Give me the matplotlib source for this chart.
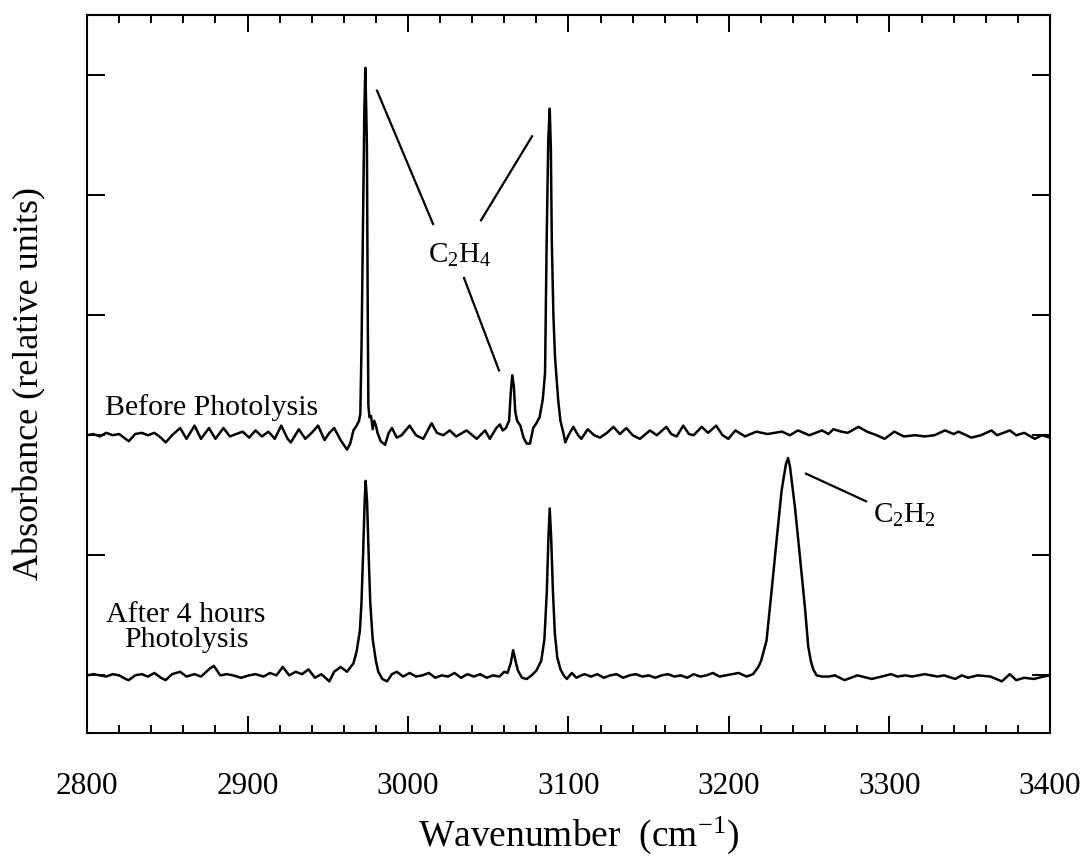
import matplotlib
matplotlib.use('Agg')
import matplotlib.pyplot as plt
import numpy as np

plt.rcParams['font.family'] = ['Liberation Serif', 'DejaVu Serif']
plt.rcParams['mathtext.fontset'] = 'custom'
plt.rcParams['mathtext.rm'] = 'Liberation Serif'
plt.rcParams['mathtext.it'] = 'Liberation Serif:italic'

# spectrum before photolysis (offset by 2 units)
before_wn = [
    2800, 2804, 2808, 2812, 2816, 2820, 2824, 2826, 2830, 2834, 2838, 2842, 2846, 2849,
    2853, 2858, 2862, 2867, 2871, 2876, 2880, 2885, 2889, 2893, 2897, 2901, 2905, 2909,
    2913, 2917, 2921, 2925, 2927, 2932, 2936, 2940, 2944, 2948, 2951, 2954, 2958, 2960,
    2962, 2964, 2966, 2968, 2969.5, 2970.3, 2971.1, 2972.1, 2972.8, 2973.4, 2974.0,
    2974.4, 2974.9, 2975.3, 2976, 2977, 2978, 2979, 2980, 2981, 2983, 2985.7, 2988,
    2990, 2993, 2996, 3001, 3005, 3009.5, 3014.7, 3018, 3022, 3026, 3030, 3036.5,
    3042.8, 3048, 3051, 3055, 3057.3, 3059, 3061, 3063, 3064, 3065, 3066, 3066.8, 3068,
    3070, 3072, 3074, 3076, 3078, 3080, 3082, 3084, 3085.4, 3086.4, 3087.4, 3088.3,
    3089.0, 3089.6, 3090.6, 3091.6, 3093.6, 3095, 3096.8, 3098, 3100, 3103, 3106, 3108,
    3112, 3116, 3119.6, 3124, 3128, 3132, 3136, 3140, 3144.5, 3150.8, 3155, 3161, 3164,
    3167.4, 3171.5, 3175, 3178, 3183, 3187, 3192, 3196, 3199.6, 3204, 3210, 3217, 3224,
    3233, 3238, 3243, 3250, 3258, 3262, 3265, 3270, 3274, 3280.6, 3286, 3292, 3297,
    3303, 3309, 3316, 3322, 3328, 3334.6, 3340, 3343, 3351, 3357, 3363.6, 3367, 3375,
    3379, 3384, 3390.6, 3395, 3400,
]
before_abs = [
    2.00, 2.01, 1.99, 2.02, 2.00, 2.01, 1.97, 1.95, 2.01, 2.02, 2.00, 2.02, 1.98, 1.94,
    2.00, 2.06, 1.97, 2.08, 1.97, 2.06, 1.97, 2.06, 1.99, 2.01, 2.03, 1.98, 2.04, 1.99,
    2.03, 1.97, 2.08, 1.97, 1.94, 2.05, 1.97, 2.02, 2.08, 1.96, 2.02, 2.06, 1.96, 1.92,
    1.88, 1.93, 2.04, 2.08, 2.12, 2.18, 2.79, 3.90, 4.70, 5.06, 4.70,
    4.40, 3.07, 2.25, 2.15, 2.16, 2.05, 2.12, 2.08, 2.02, 1.95, 1.92, 2.02,
    2.06, 1.98, 2.00, 2.08, 2.00, 1.97, 2.10, 2.02, 2.00, 2.04, 1.99, 2.04,
    1.97, 2.04, 1.97, 2.06, 2.09, 2.04, 2.06, 2.12, 2.35, 2.50, 2.40, 2.20, 2.12,
    2.08, 1.98, 1.93, 1.93, 2.06, 2.10, 2.15, 2.30, 2.52, 3.62, 4.46, 4.72,
    4.40, 3.62, 3.00, 2.65, 2.29, 2.12, 2.02, 1.94, 2.00, 2.07, 2.00, 1.97,
    2.05, 2.00, 1.98, 2.02, 2.07, 2.01, 2.06, 2.00, 1.97, 2.04, 2.00, 2.07, 2.01,
    1.99, 2.08, 2.01, 2.00, 2.07, 2.02, 2.08, 2.00, 1.97, 2.04, 1.99, 2.03, 2.01,
    2.03, 2.00, 2.04, 2.00, 2.04, 2.01, 2.05, 2.03, 2.02, 2.07, 2.03, 2.00, 1.97,
    2.03, 1.99, 2.00, 1.99, 2.00, 2.04, 2.01, 2.03, 1.98, 2.00, 2.04, 2.00, 2.04,
    2.00, 2.02, 1.97, 2.00, 1.98,
]

# spectrum after 4 hours of photolysis
after_wn = [
    2800, 2804, 2808, 2812, 2816, 2820, 2824, 2826, 2830, 2834, 2838, 2842, 2846, 2849,
    2853, 2858, 2862, 2867, 2871, 2876, 2879, 2883, 2887, 2891, 2896, 2901, 2905, 2910,
    2914, 2918, 2922, 2926, 2930, 2934, 2938, 2942, 2946, 2951, 2954, 2958, 2962, 2966,
    2968, 2970, 2971, 2972, 2973, 2973.6, 2974.5, 2975.5, 2976.5, 2978, 2980, 2981.5,
    2984, 2987, 2990, 2993, 2997, 3001, 3005, 3009, 3013, 3017, 3021, 3025, 3029, 3033,
    3037, 3041, 3045, 3049, 3053, 3057, 3060, 3062, 3064, 3065.5, 3067, 3068.5, 3071,
    3074, 3077, 3080, 3083, 3085, 3086.5, 3087.5, 3088.3, 3089.2, 3090.3, 3091.5, 3093,
    3095, 3097, 3099, 3102, 3105, 3108, 3110, 3114, 3118, 3122, 3126, 3130, 3134, 3138,
    3142, 3146, 3150, 3154, 3158, 3162, 3166, 3170, 3174, 3178, 3182, 3186, 3190, 3194,
    3198, 3201.7, 3206, 3211, 3215, 3218.3, 3220, 3223.4, 3226.6, 3229.7, 3232.8,
    3235.5, 3236.8, 3238, 3241.1, 3244.2, 3247.3, 3249.4, 3251, 3252.5, 3254.6, 3258,
    3262, 3266, 3272, 3280, 3289, 3295, 3301, 3305, 3310, 3314, 3322, 3330, 3334, 3341,
    3345, 3349, 3355, 3363, 3370, 3375, 3379, 3384, 3390, 3396, 3400,
]
after_abs = [
    0.00, 0.01, 0.00, -0.01, 0.01, 0.00, -0.03, -0.04, 0.00, 0.01, -0.01, 0.02, -0.02, -0.04,
    0.01, 0.03, -0.01, 0.01, -0.01, 0.05, 0.08, 0.00, 0.01, 0.00, -0.02, 0.00, 0.01, -0.01,
    0.02, 0.00, 0.07, 0.00, 0.03, 0.01, 0.05, -0.02, 0.01, -0.05, 0.03, 0.07, 0.03, 0.10,
    0.20, 0.37, 0.60, 1.00, 1.45, 1.62, 1.45, 1.00, 0.60, 0.30, 0.12, 0.03,
    -0.03, -0.05, 0.01, 0.03, -0.01, 0.02, -0.01, 0.00, 0.02, -0.02, 0.00, -0.01, 0.02, -0.02,
    0.01, -0.01, 0.01, -0.02, 0.00, -0.01, 0.03, 0.02, 0.10, 0.21, 0.12, 0.04, -0.02,
    -0.03, 0.00, 0.04, 0.12, 0.30, 0.70, 1.15, 1.39, 1.15, 0.70, 0.35, 0.15,
    0.05, 0.00, -0.03, 0.02, -0.02, 0.00, 0.01, -0.01, 0.01, -0.02, 0.00, 0.01, -0.02, 0.00,
    0.01, -0.01, 0.00, -0.02, 0.00, 0.01, -0.01, 0.00, -0.02, 0.01, -0.01, 0.00, 0.02, -0.01,
    0.00, 0.01, 0.02, -0.01, 0.01, 0.07, 0.12, 0.29, 0.71, 1.13, 1.54,
    1.76, 1.81, 1.74, 1.40, 0.99, 0.57, 0.24, 0.12, 0.05, 0.00, -0.01,
    -0.01, 0.00, -0.04, 0.00, -0.03, -0.01, 0.01, -0.01, 0.00, -0.01, 0.01, -0.01, 0.00, -0.03,
    0.00, -0.02, 0.00, -0.01, -0.05, 0.01, -0.04, -0.02, -0.03, -0.01, 0.00,
]

x_major = [2800, 2900, 3000, 3100, 3200, 3300, 3400]
y_major = [0, 1, 2, 3, 4, 5]

fig = plt.figure(figsize=(10.85, 8.58), dpi=100)
ax = fig.add_axes([0.0802, 0.1457, 0.8875, 0.8368])

ax.plot(before_wn, before_abs, color='black', lw=1.8)
ax.plot(after_wn, after_abs, color='black', lw=1.8)

ax.set_xlim(2800, 3400)
ax.set_ylim(-0.48, 5.5)
ax.set_xticks(x_major)
ax.set_xticks(np.arange(2800, 3401, 20), minor=True)
ax.set_yticks(y_major)
ax.set_yticklabels([])
ax.tick_params(which='both', direction='in', top=True, right=True, width=1.4, labelsize=22.5)
ax.tick_params(axis='x', which='major', length=12, pad=28)
ax.tick_params(axis='x', which='minor', length=6)
ax.tick_params(axis='y', which='major', length=13)
for s in ax.spines.values():
    s.set_linewidth(1.5)

ax.set_xlabel('Wavenumber  (cm$^{-1}$)', fontsize=27, labelpad=10)
ax.xaxis.label.set_x(0.51)
ax.set_ylabel('Absorbance (relative units)', fontsize=26, labelpad=26)
ax.yaxis.label.set_y(0.487)

# labels for the two traces
ax.text(2811, 2.167, 'Before Photolysis', fontsize=21.5, ha='left', va='baseline')
ax.text(2861.7, 0.442, 'After 4 hours', fontsize=21.5, ha='center', va='baseline')
ax.text(2861.7, 0.233, 'Photolysis', fontsize=21.5, ha='center', va='baseline')

# band assignments
ax.text(3032.5, 3.5, 'C$_2$H$_4$', fontsize=21, ha='center', va='center')
ax.plot([2980.7, 3015.6], [4.87, 3.76], color='black', lw=1.6)
ax.plot([3077.3, 3045.5], [4.49, 3.79], color='black', lw=1.6)
ax.plot([3034.9, 3056.7], [3.31, 2.54], color='black', lw=1.6)

ax.text(3289.5, 1.33, 'C$_2$H$_2$', fontsize=21, ha='left', va='center')
ax.plot([3248.0, 3285.4], [1.68, 1.45], color='black', lw=1.6)

fig.savefig('out.png', dpi=100)
